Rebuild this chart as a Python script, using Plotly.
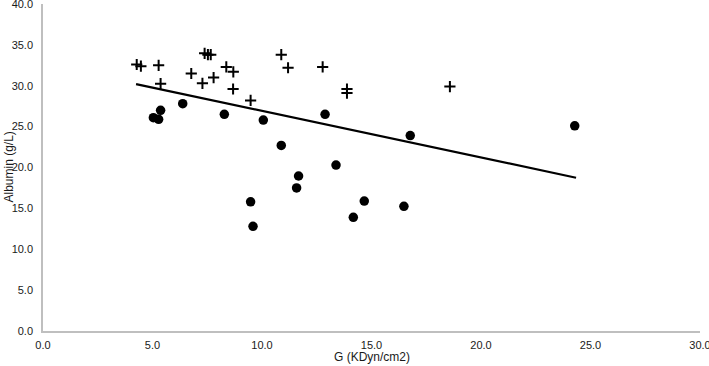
import numpy as np
import plotly.graph_objects as go

# Series 1: plus markers
plus_x = [4.28, 4.47, 5.28, 5.37, 6.77, 7.28, 7.38, 7.53, 7.66, 7.79, 8.37, 8.69, 8.68, 9.48,
          10.88, 11.19, 12.77, 13.88, 13.88, 18.58]
plus_y = [32.6, 32.4, 32.5, 30.25, 31.5, 30.3, 33.97, 33.8, 33.8, 31.0, 32.3, 31.7, 29.6, 28.2,
          33.8, 32.2, 32.3, 29.6, 29.1, 29.9]

# Series 2: filled circles
dot_x = [5.04, 5.28, 5.37, 6.38, 8.28, 10.06, 10.88, 13.38, 11.67, 11.58, 9.48, 9.59,
         14.67, 14.17, 16.48, 12.88, 16.77, 24.28]
dot_y = [26.1, 25.9, 27.0, 27.8, 26.5, 25.8, 22.7, 20.3, 18.96, 17.5, 15.8, 12.8,
         15.9, 13.9, 15.25, 26.5, 23.9, 25.1]

# Linear trend line
trend_x = [4.25, 24.34]
trend_y = [30.2, 18.75]

x_ticks = [0, 5, 10, 15, 20, 25, 30]
y_ticks = [0, 5, 10, 15, 20, 25, 30, 35, 40]
x_title = "G (KDyn/cm2)"
y_title = "Albumin (g/L)"

FONT = "Liberation Sans, Arial, sans-serif"
TICKFONT = "Liberation Sans Narrow, Liberation Sans, Arial, sans-serif"
TXT = "#1a1a1a"

fig = go.Figure()
fig.add_trace(go.Scatter(x=plus_x, y=plus_y, mode="markers",
                         marker=dict(symbol="cross-thin", size=8, color="black",
                                     line=dict(width=2, color="black")),
                         showlegend=False))
fig.add_trace(go.Scatter(x=dot_x, y=dot_y, mode="markers",
                         marker=dict(symbol="circle", size=9.5, color="black"),
                         showlegend=False))
fig.add_trace(go.Scatter(x=trend_x, y=trend_y, mode="lines",
                         line=dict(color="black", width=2.2), showlegend=False))

axis_common = dict(showgrid=False, zeroline=False, showline=True, linecolor="#bfbfbf",
                   linewidth=1.5, ticks="outside", tickcolor="rgba(0,0,0,0)",
                   tickfont=dict(family=TICKFONT, size=11, color=TXT),
                   tickformat=".1f", automargin=False, ticklabeloverflow="allow")

fig.update_xaxes(range=[0, 30], tickvals=x_ticks, ticklen=3, **axis_common)
fig.update_yaxes(range=[0, 40], tickvals=y_ticks, ticklen=6, **axis_common)

fig.update_layout(width=709, height=366, margin=dict(l=43, r=9, t=4, b=35),
                  plot_bgcolor="white", paper_bgcolor="white",
                  annotations=[
                      dict(text=x_title, xref="paper", yref="paper", x=0.5, y=0,
                           yshift=-17, yanchor="top", showarrow=False,
                           font=dict(family=FONT, size=12, color=TXT)),
                      dict(text=y_title, xref="paper", yref="paper", x=0, y=0.5,
                           xshift=-35, xanchor="center", textangle=-90, showarrow=False,
                           font=dict(family=FONT, size=12, color=TXT)),
                  ])

fig.write_html("out.html", config={"displayModeBar": False},
               post_script="document.body.style.margin='0';document.body.style.overflow='hidden';")
